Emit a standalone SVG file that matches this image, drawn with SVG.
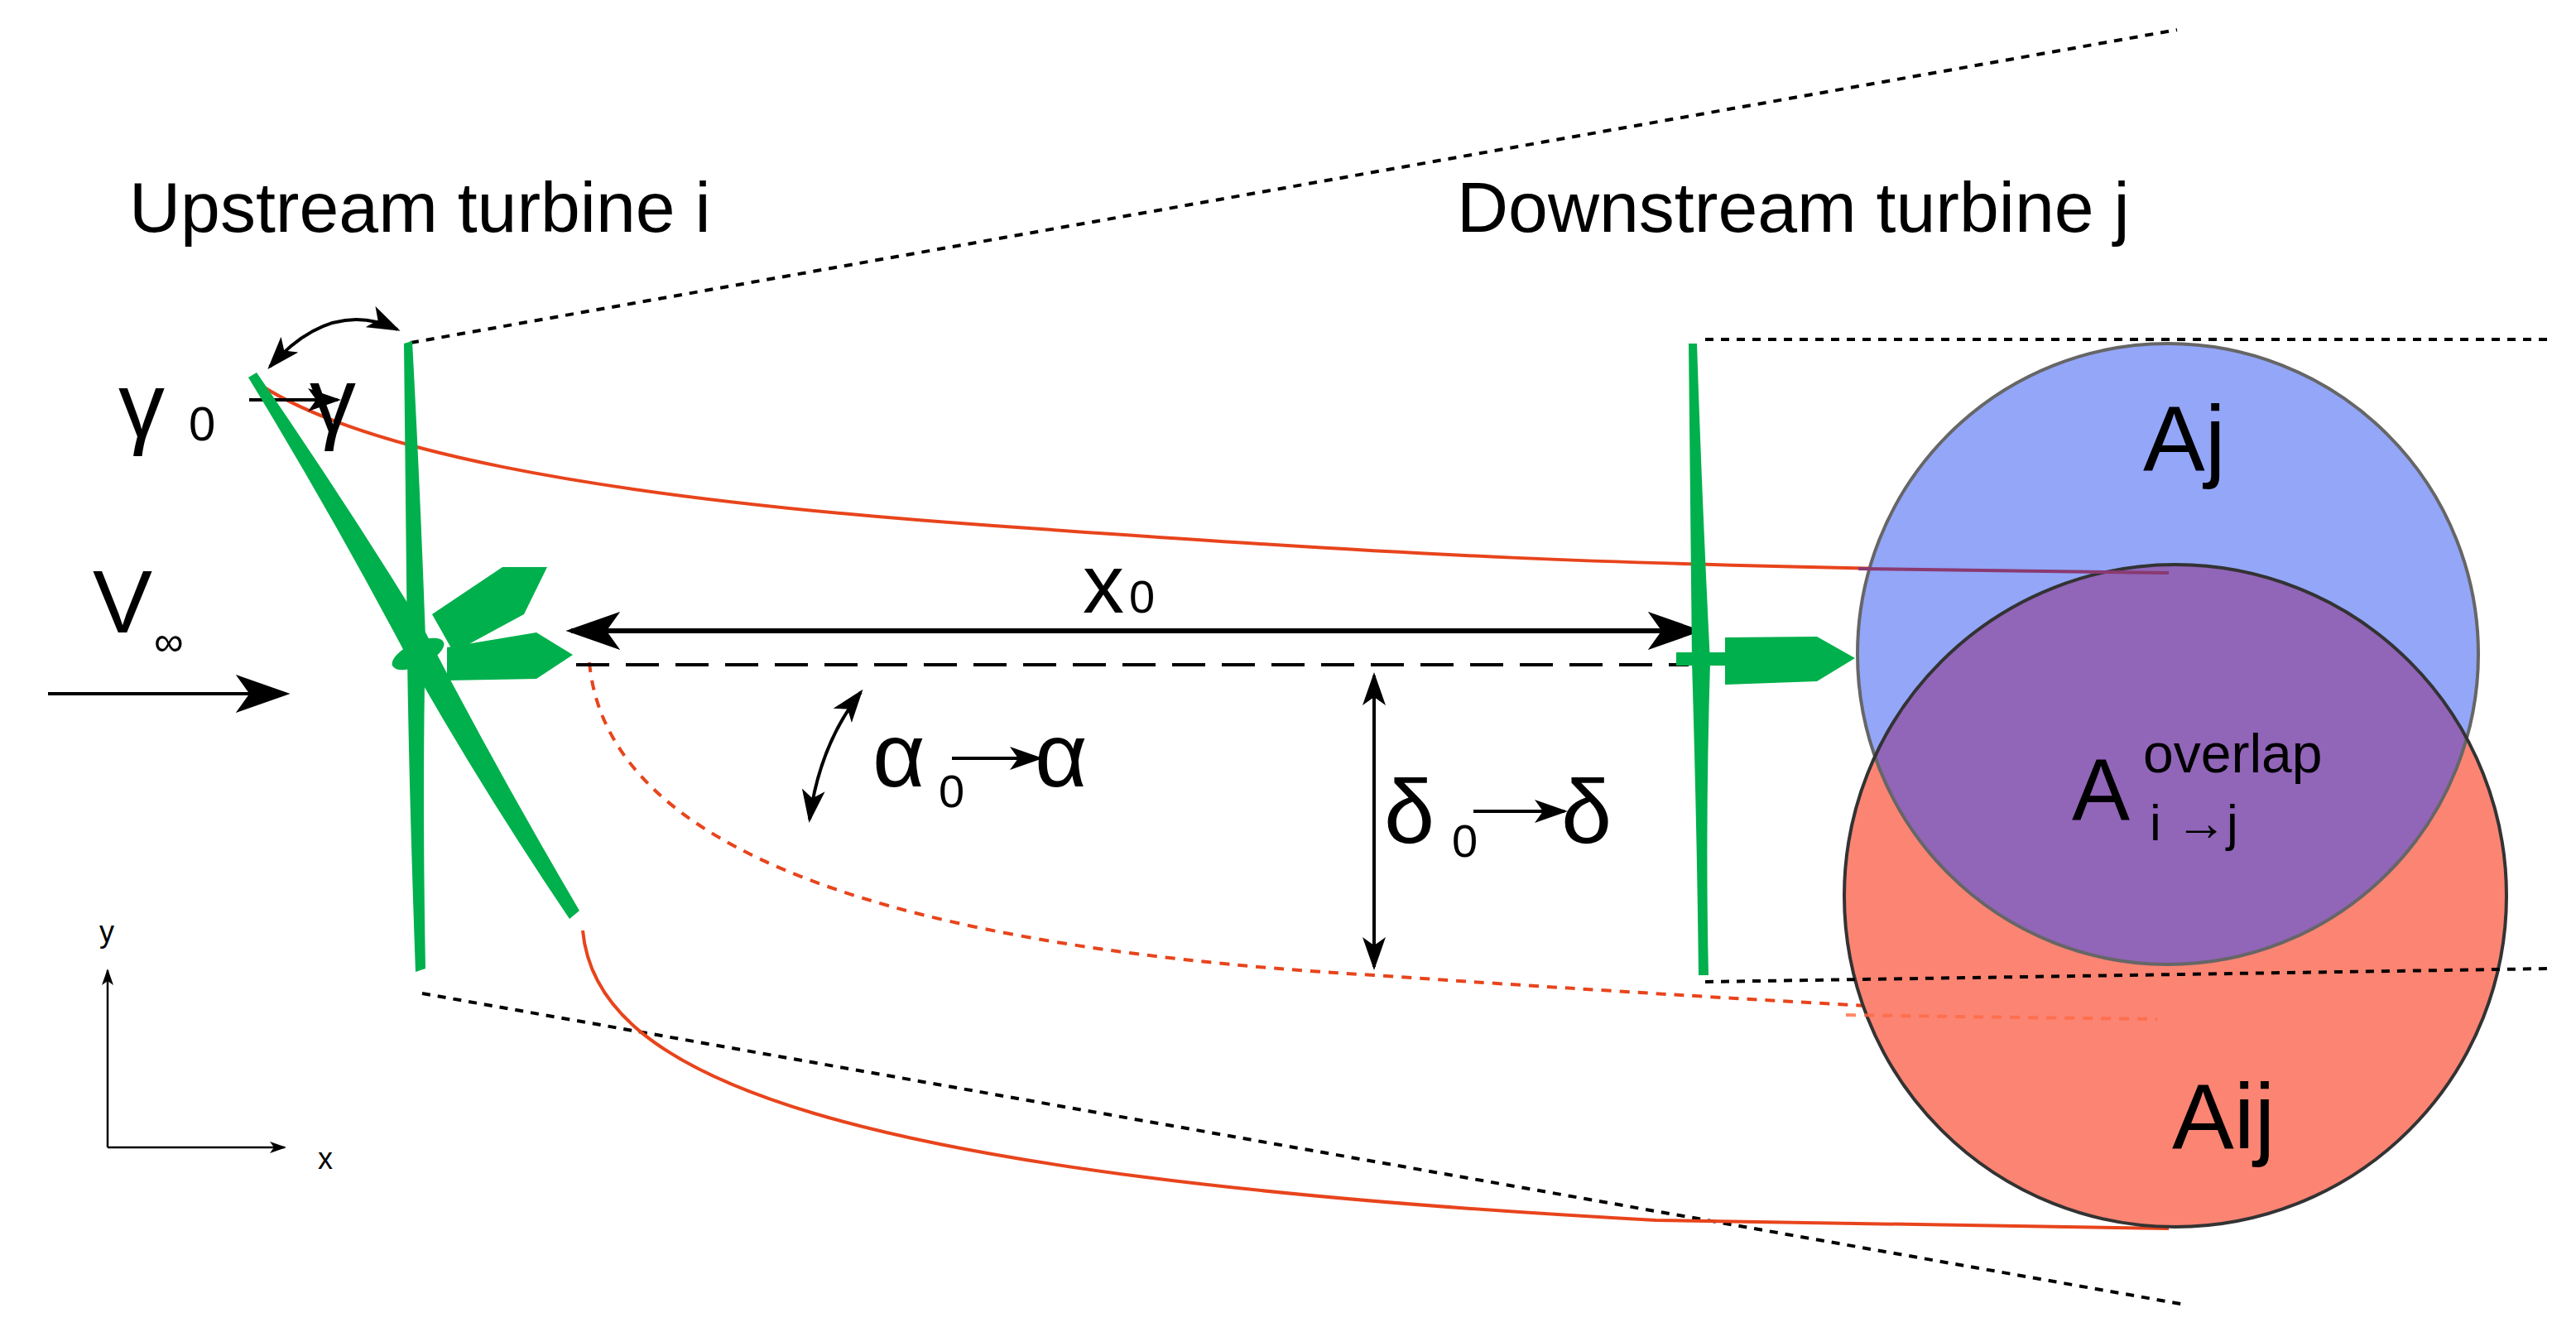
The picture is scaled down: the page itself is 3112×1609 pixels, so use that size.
<svg xmlns="http://www.w3.org/2000/svg" width="3112" height="1609" viewBox="0 0 3112 1609">
<style>
text{font-family:"Liberation Sans",Arial,sans-serif;fill:#000}
.dot{fill:none;stroke:#000;stroke-width:4;stroke-dasharray:10 9}
.red{fill:none;stroke:#e8441c;stroke-width:4}
.blk{fill:none;stroke:#000;stroke-width:4}
.g{fill:#00b04c}
</style>
<defs>
<marker id="ah" viewBox="0 0 20 14" refX="18" refY="7" markerWidth="20" markerHeight="14" markerUnits="userSpaceOnUse" orient="auto-start-reverse"><path d="M0,0 L20,7 L0,14 L5,7Z" fill="#000"/></marker>
<marker id="ahL" viewBox="0 0 20 14" refX="18" refY="7" markerWidth="66" markerHeight="46" markerUnits="userSpaceOnUse" orient="auto-start-reverse"><path d="M0,0 L20,7 L0,14 L5,7Z" fill="#000"/></marker>
<marker id="ahM" viewBox="0 0 20 14" refX="18" refY="7" markerWidth="40" markerHeight="28" markerUnits="userSpaceOnUse" orient="auto-start-reverse"><path d="M0,0 L20,7 L0,14 L5,7Z" fill="#000"/></marker>
<clipPath id="cb"><circle cx="2619" cy="790" r="375"/></clipPath>
</defs>
<g id="connectors">
<path class="dot" d="M496,414 L2630,36"/>
<path class="dot" d="M510,1200 L2640,1576"/>
<path class="dot" d="M2060,410 L3080,410"/>
<path class="red" d="M304,458 C420,540 700,600 1200,635 S1900,684 2620,692"/>
<path class="red" stroke-dasharray="12 10" d="M712,800 C730,1000 1000,1140 1660,1178 Q2200,1215 2620,1233"/>
<path class="red" d="M704,1124 C720,1300 1000,1420 2000,1474 L2620,1484"/>
<path fill="none" stroke="#000" stroke-width="4" stroke-dasharray="40 20" d="M696,803 L2040,803"/>
<path fill="none" stroke="#000" stroke-width="6" d="M690,762 L2050,762" marker-start="url(#ahL)" marker-end="url(#ahL)"/>
<path class="blk" d="M1660,816 L1660,1168" marker-start="url(#ahM)" marker-end="url(#ahM)"/>
<path class="blk" d="M1040,836 Q990,900 978,990" marker-start="url(#ahM)" marker-end="url(#ahM)"/>
<path class="blk" d="M326,443 Q400,360 480,398" marker-start="url(#ahM)" marker-end="url(#ahM)"/>
<path class="blk" d="M301,483 L408,483" marker-end="url(#ahM)"/>
<path class="blk" d="M1150,916 L1256,916" marker-end="url(#ahM)"/>
<path class="blk" d="M1780,980 L1890,980" marker-end="url(#ahM)"/>
<path class="blk" d="M58,838 L344,838" marker-end="url(#ahL)"/>
<path fill="none" stroke="#000" stroke-width="2.5" d="M130,1386 L130,1172" marker-end="url(#ah)"/>
<path fill="none" stroke="#000" stroke-width="2.5" d="M130,1386 L344,1386" marker-end="url(#ah)"/>
</g>
<g id="turbine-i">
<path class="g" d="M300,456 L310,450 Q420,610 512,760 Q600,930 700,1100 L688,1110 Q580,950 490,790 Q400,620 300,456Z"/>
<path class="g" d="M488,415 L498,412 Q508,600 514,770 Q510,950 514,1170 L502,1174 Q494,950 492,790 Q490,600 488,415Z"/>
<polygon class="g" points="522,742 607,685 661,685 633,742 548,788"/>
<polygon class="g" points="540,782 648,764 692,791 648,820 540,822"/>
<ellipse class="g" cx="505" cy="790" rx="34" ry="14" transform="rotate(-25 505 790)"/>
</g>
<g id="turbine-j">
<path class="g" d="M2040,415 L2050,415 Q2056,600 2066,800 Q2060,1000 2064,1178 L2052,1178 Q2050,1000 2044,800 Q2042,600 2040,415Z"/>
<rect class="g" x="2025" y="788" width="60" height="16"/>
<polygon class="g" points="2084,770 2195,769 2241,795 2195,823 2084,827"/>
</g>
<g id="circles">
<circle cx="2619" cy="790" r="375" fill="#8fa3f8" fill-opacity="0.97"/>
<circle cx="2628" cy="1082" r="400" fill="#fb8473"/>
<circle cx="2628" cy="1082" r="400" fill="#9165b8" clip-path="url(#cb)"/>
<circle cx="2619" cy="790" r="375" fill="none" stroke="#666" stroke-width="4"/>
<circle cx="2628" cy="1082" r="400" fill="none" stroke="#333" stroke-width="4"/>
<path d="M2230,1226 Q2420,1229 2606,1231" fill="none" stroke="#ff6a45" stroke-width="4" stroke-dasharray="12 10" opacity="0.8"/>
<path d="M2245,687 L2620,692" fill="none" stroke="#8a3a70" stroke-width="4"/>
<path class="dot" d="M2060,1186 L3080,1170"/>
</g>
<g id="labels">
<text x="156" y="280" font-size="86">Upstream turbine i</text>
<text x="1760" y="280" font-size="86">Downstream turbine j</text>
<text x="143" y="528" font-size="112">γ</text>
<text x="228" y="532" font-size="58">0</text>
<text x="374" y="522" font-size="112">γ</text>
<text x="112" y="764" font-size="108">V</text>
<text x="186" y="792" font-size="50">∞</text>
<text x="1308" y="740" font-size="100">x</text>
<text x="1364" y="740" font-size="56">0</text>
<text x="1054" y="950" font-size="110">α</text>
<text x="1134" y="975" font-size="56">0</text>
<text x="1250" y="950" font-size="110">α</text>
<text x="1672" y="1018" font-size="110">δ</text>
<text x="1754" y="1035" font-size="56">0</text>
<text x="1886" y="1018" font-size="110">δ</text>
<text x="2589" y="568" font-size="112">Aj</text>
<text x="2503" y="990" font-size="105">A</text>
<text x="2589" y="933" font-size="66">overlap</text>
<text x="2597" y="1015" font-size="62">i →j</text>
<text x="2624" y="1387" font-size="112">Aij</text>
<text x="120" y="1138" font-size="36">y</text>
<text x="384" y="1412" font-size="36">x</text>
</g>
</svg>
